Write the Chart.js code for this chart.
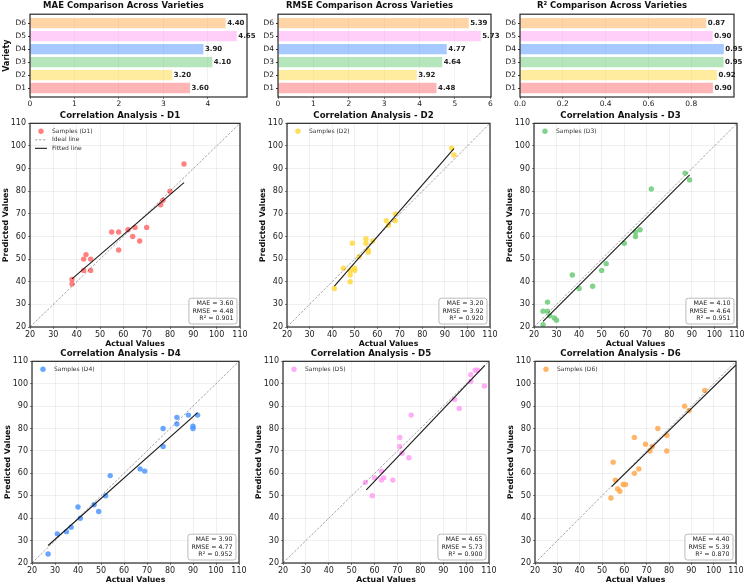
<!DOCTYPE html>
<html>
<head>
<meta charset="utf-8">
<script src="https://cdn.jsdelivr.net/npm/chart.js@4.4.0/dist/chart.umd.min.js"></script>
<style>
  body { margin: 0; background: #fff; overflow: hidden; }
  #fig { position: relative; width: 747px; height: 585px; }
  canvas { position: absolute; }
</style>
</head>
<body>
<div id="fig">
  <canvas id="barMae" width="256" height="108" style="left:0px;top:0px"></canvas>
  <canvas id="barRmse" width="255" height="108" style="left:248px;top:0px"></canvas>
  <canvas id="barR2" width="257" height="108" style="left:490px;top:0px"></canvas>
  <canvas id="corr0" width="250" height="241" style="left:0px;top:108px"></canvas>
  <canvas id="corr1" width="243" height="241" style="left:257px;top:108px"></canvas>
  <canvas id="corr2" width="243" height="241" style="left:504px;top:108px"></canvas>
  <canvas id="corr3" width="247" height="239" style="left:2px;top:346px"></canvas>
  <canvas id="corr4" width="246" height="239" style="left:253px;top:346px"></canvas>
  <canvas id="corr5" width="241" height="239" style="left:505px;top:346px"></canvas>
</div>
<script>
// summary metrics per variety
const varieties = ['D1', 'D2', 'D3', 'D4', 'D5', 'D6'];
const maeVals = [3.60, 3.20, 4.10, 3.90, 4.65, 4.40];
const rmseVals = [4.48, 3.92, 4.64, 4.77, 5.73, 5.39];
const r2Vals = [0.901, 0.920, 0.951, 0.952, 0.900, 0.870];
const baseColors = ['#FF6B6B', '#FFD93D', '#6BCB77', '#4D96FF', '#FF9FF3', '#FFA94D'];

// tick labels
const maeTicks = [0, 1, 2, 3, 4];
const rmseTicks = [0, 1, 2, 3, 4, 5, 6];
const r2Ticks = [0, 0.2, 0.4, 0.6, 0.8];
const corrTicks = [20, 30, 40, 50, 60, 70, 80, 90, 100, 110];

// samples: actual vs predicted
const actualD1 = [38, 38, 43, 44, 43, 46, 46, 55, 58, 58, 62, 64, 65, 67, 70, 76, 77, 80, 86];
const predD1 = [41, 39, 50, 52, 45, 50, 45, 62, 62, 54, 63, 60, 64, 58, 64, 74, 76, 80, 92];
const actualD2 = [41, 45, 48, 48, 48, 49, 50, 50, 52, 55, 55, 56, 56, 58, 64, 65, 68, 68, 93, 94];
const predD2 = [37, 46, 45, 43, 40, 57, 46, 45, 51, 59, 57, 54, 53, 58, 67, 65, 70, 67, 99, 96];
const actualD3 = [24, 24, 26, 26, 27, 29, 30, 37, 40, 46, 50, 52, 60, 65, 65, 67, 72, 87, 89];
const predD3 = [27, 21, 31, 27, 25, 24, 23, 43, 37, 38, 45, 48, 57, 62, 60, 63, 81, 88, 85];
const actualD4 = [27, 31, 35, 37, 40, 41, 47, 49, 52, 54, 67, 69, 77, 77, 83, 83, 88, 90, 90, 92];
const predD4 = [24, 33, 34, 36, 45, 40, 46, 43, 50, 59, 62, 61, 80, 72, 85, 82, 86, 81, 80, 86];
const actualD5 = [56, 59, 60, 63, 63, 64, 68, 71, 71, 72, 75, 76, 95, 97, 102, 102, 104, 105, 108];
const predD5 = [56, 50, 58, 61, 57, 58, 57, 76, 72, 69, 67, 86, 93, 89, 104, 101, 106, 106, 99];
const actualD6 = [54, 55, 56, 57, 58, 59.5, 60.5, 64.5, 64.5, 66.5, 69.5, 71.5, 72.5, 75, 79, 79, 87, 89, 96];
const predD6 = [49, 65, 57, 53, 52, 55, 55, 76, 60, 62, 73, 70, 72, 80, 77, 70, 90, 88, 97];

// fitted line end points
const fitX = [[38, 86], [41, 94], [24, 89], [27, 92], [56.4, 108.2], [54.3, 110]];
const fitY = [[41.3, 83.8], [38.1, 98.8], [22.5, 87.2], [27.8, 87.1], [52.6, 108.2], [54.1, 108.4]];
const idealLine = [20, 110];

const actualVals = [actualD1, actualD2, actualD3, actualD4, actualD5, actualD6];
const predVals = [predD1, predD2, predD3, predD4, predD5, predD6];

Chart.defaults.font.family = '"DejaVu Sans", sans-serif';
Chart.defaults.color = '#222';
Chart.defaults.animation = false;

function withAlpha(hex, a) {
    const n = parseInt(hex.slice(1), 16);
    return `rgba(${(n >> 16) & 255}, ${(n >> 8) & 255}, ${n & 255}, ${a})`;
}

const framePlugin = {
    id: 'frame',
    afterDatasetsDraw(chart) {
        const { ctx, chartArea: a } = chart;
        ctx.save();
        ctx.strokeStyle = '#2a2a2a';
        ctx.lineWidth = 1.2;
        ctx.strokeRect(a.left, a.top, a.right - a.left, a.bottom - a.top);
        ctx.restore();
    }
};

const barValuePlugin = {
    id: 'barValues',
    afterDatasetsDraw(chart) {
        const { ctx } = chart;
        const meta = chart.getDatasetMeta(0);
        const vals = chart.data.datasets[0].data;
        ctx.save();
        ctx.font = 'bold 7px "DejaVu Sans"';
        ctx.fillStyle = '#222';
        ctx.textBaseline = 'middle';
        meta.data.forEach((bar, k) => {
            ctx.fillText(vals[k].x.toFixed(2), bar.x + 1.5, bar.y);
        });
        ctx.restore();
    }
};

const cornerLegendPlugin = {
    id: 'cornerLegend',
    afterDraw(chart) {
        const { ctx, chartArea: a } = chart;
        ctx.save();
        ctx.font = '6px "DejaVu Sans"';
        ctx.textBaseline = 'middle';
        let y = a.top + 8;
        chart.data.datasets.forEach(ds => {
            if (!ds.inLegend) return;
            if (ds.showLine) {
                ctx.strokeStyle = ds.borderColor;
                ctx.lineWidth = ds.borderWidth;
                ctx.setLineDash(ds.borderDash || []);
                ctx.beginPath();
                ctx.moveTo(a.left + 5, y);
                ctx.lineTo(a.left + 17, y);
                ctx.stroke();
                ctx.setLineDash([]);
            } else {
                ctx.fillStyle = ds.backgroundColor;
                ctx.beginPath();
                ctx.arc(a.left + 11, y, ds.pointRadius, 0, Math.PI * 2);
                ctx.fill();
            }
            ctx.fillStyle = '#333';
            ctx.fillText(ds.label, a.left + 22, y);
            y += 8.5;
        });
        ctx.restore();
    }
};

const statBoxPlugin = {
    id: 'statBox',
    afterDraw(chart, args, opts) {
        if (!opts.lines) return;
        const { ctx, chartArea: a } = chart;
        ctx.save();
        ctx.font = '6.3px "DejaVu Sans"';
        const w = Math.max(...opts.lines.map(t => ctx.measureText(t).width)) + 7;
        const lh = 7.6;
        const h = lh * opts.lines.length + 3;
        const x = a.right - 3 - w;
        const y = a.bottom - 3 - h;
        ctx.beginPath();
        ctx.roundRect(x, y, w, h, 2.5);
        ctx.fillStyle = 'rgba(255,255,255,0.85)';
        ctx.fill();
        ctx.strokeStyle = '#aaa';
        ctx.lineWidth = 0.8;
        ctx.stroke();
        ctx.fillStyle = '#222';
        ctx.textAlign = 'right';
        ctx.textBaseline = 'middle';
        opts.lines.forEach((t, k) => ctx.fillText(t, x + w - 3.5, y + 1.5 + lh * (k + 0.5)));
        ctx.restore();
    }
};

function barChart(id, title, vals, ticks, xMax, padRight, showYTitle, fmt) {
    const ctx = document.getElementById(id).getContext('2d');
    return new Chart(ctx, {
        type: 'bar',
        data: {
            datasets: [{
                data: varieties.map((v, k) => ({ x: vals[k], y: k })),
                backgroundColor: baseColors.map(c => withAlpha(c, 0.5)),
                borderWidth: 0,
                barPercentage: 0.8,
                categoryPercentage: 1.0,
            }]
        },
        options: {
            responsive: false,
            indexAxis: 'y',
            layout: { padding: { right: padRight } },
            plugins: {
                legend: { display: false },
                tooltip: { enabled: false },
                title: {
                    display: true, text: title, color: '#111',
                    font: { size: 8.5, weight: 'bold' },
                    padding: { top: 1, bottom: 3 }
                }
            },
            scales: {
                x: {
                    type: 'linear', min: 0, max: xMax,
                    afterBuildTicks: s => { s.ticks = ticks.map(v => ({ value: v })); },
                    afterFit: s => { s.height = 11; },
                    grid: { color: 'rgba(0,0,0,0.09)', lineWidth: 0.6, tickLength: 2, tickColor: '#333' },
                    border: { display: false },
                    ticks: { font: { size: 7.5 }, padding: 1, callback: fmt, maxRotation: 0, autoSkip: false }
                },
                y: {
                    type: 'linear', min: -0.69, max: 5.69, offset: false,
                    afterBuildTicks: s => { s.ticks = varieties.map((v, k) => ({ value: k })); },
                    afterFit: s => { s.width = 30; },
                    grid: { drawOnChartArea: false, offset: false, tickLength: 2, tickColor: '#333' },
                    border: { display: false },
                    ticks: { font: { size: 7.5 }, padding: 2, callback: v => varieties[v] },
                    title: {
                        display: showYTitle, text: 'Variety', color: '#111',
                        font: { size: 8, weight: 'bold' }, padding: { top: 2, bottom: 0 }
                    }
                }
            }
        },
        plugins: [framePlugin, barValuePlugin]
    });
}

function corrScale(axis, title) {
    return {
        type: 'linear', min: 20, max: 110,
        afterBuildTicks: s => { s.ticks = corrTicks.map(v => ({ value: v })); },
        afterFit: s => { if (axis === 'x') s.height = 22; else s.width = 30; },
        grid: { color: 'rgba(0,0,0,0.1)', lineWidth: 0.6, tickLength: 2, tickColor: '#333' },
        border: { display: false },
        ticks: { font: { size: 8 }, padding: axis === 'x' ? 1 : 2, maxRotation: 0, autoSkip: false },
        title: {
            display: true, text: title, color: '#111',
            font: { size: 7.8, weight: 'bold' },
            padding: axis === 'x' ? 0 : { top: 1.4, bottom: 0 }
        }
    };
}

function corrChart(i) {
    const ctx = document.getElementById('corr' + i).getContext('2d');
    const name = varieties[i];
    const points = actualVals[i].map((a, k) => ({ x: a, y: predVals[i][k] }));
    return new Chart(ctx, {
        type: 'scatter',
        data: {
            datasets: [{
                label: `Samples (${name})`,
                data: points,
                backgroundColor: withAlpha(baseColors[i], 0.85),
                pointRadius: 2.7,
                pointBorderWidth: 0,
                inLegend: true,
                order: 3,
            }, {
                label: 'Ideal line',
                data: [{ x: idealLine[0], y: idealLine[0] }, { x: idealLine[1], y: idealLine[1] }],
                showLine: true,
                borderColor: 'rgba(0,0,0,0.45)',
                borderWidth: 0.8,
                borderDash: [2.5, 1.5],
                pointRadius: 0,
                inLegend: i === 0,
                order: 2,
            }, {
                label: 'Fitted line',
                data: [{ x: fitX[i][0], y: fitY[i][0] }, { x: fitX[i][1], y: fitY[i][1] }],
                showLine: true,
                borderColor: '#1a1a1a',
                borderWidth: 1.1,
                pointRadius: 0,
                inLegend: i === 0,
                order: 1,
            }]
        },
        options: {
            responsive: false,
            layout: { padding: { right: 10 } },
            plugins: {
                legend: { display: false },
                tooltip: { enabled: false },
                title: {
                    display: true, text: `Correlation Analysis - ${name}`, color: '#111',
                    font: { size: 8.6, weight: 'bold' },
                    padding: { top: 3, bottom: 2 }
                },
                statBox: {
                    lines: [
                        `MAE = ${maeVals[i].toFixed(2)}`,
                        `RMSE = ${rmseVals[i].toFixed(2)}`,
                        `R² = ${r2Vals[i].toFixed(3)}`
                    ]
                }
            },
            scales: {
                x: corrScale('x', 'Actual Values'),
                y: corrScale('y', 'Predicted Values')
            }
        },
        plugins: [framePlugin, cornerLegendPlugin, statBoxPlugin]
    });
}

barChart('barMae', 'MAE Comparison Across Varieties', maeVals, maeTicks, 4.88, 9, true, v => v);
barChart('barRmse', 'RMSE Comparison Across Varieties', rmseVals, rmseTicks, 6.02, 12, false, v => v);
barChart('barR2', 'R² Comparison Across Varieties', r2Vals, r2Ticks, 0.9996, 13, false, v => v.toFixed(1));

for (let i = 0; i < 6; i++) {
    corrChart(i);
}
</script>
</body>
</html>
